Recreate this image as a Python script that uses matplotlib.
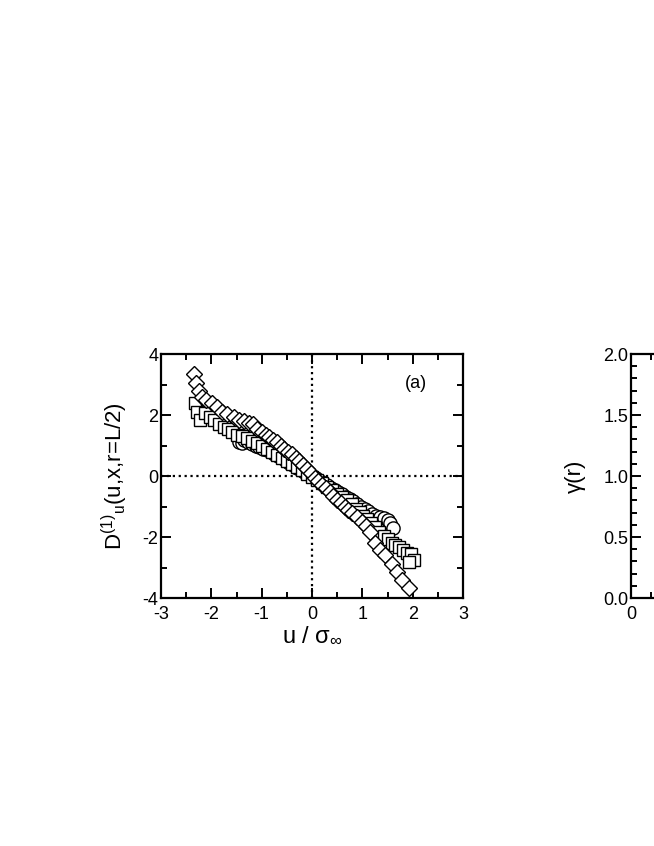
import matplotlib.pyplot as plt
from matplotlib.ticker import MultipleLocator

plt.rcParams['font.family'] = ['Liberation Sans', 'DejaVu Sans']
plt.rcParams['mathtext.fontset'] = 'custom'
plt.rcParams['mathtext.rm'] = 'Liberation Sans'
plt.rcParams['mathtext.it'] = 'Liberation Sans'
plt.rcParams['axes.unicode_minus'] = False

# panel (a) data
circ_u = [-1.45, -1.40, -1.35, -1.28, -1.20, -1.12, -1.05, -0.98, -0.90, -0.82, -0.75, -0.68,
          -0.60, -0.52, -0.45, -0.38, -0.30, -0.22, -0.15, -0.08, 0.00, 0.08, 0.15, 0.22,
          0.30, 0.38, 0.45, 0.52, 0.60, 0.68, 0.75, 0.82, 0.90, 0.98, 1.05, 1.12, 1.20,
          1.28, 1.35, 1.42, 1.50, 1.55, 1.60]
circ_d = [1.12, 1.08, 1.18, 1.10, 1.05, 1.00, 0.95, 0.90, 0.85, 0.78, 0.72, 0.66,
          0.58, 0.50, 0.44, 0.36, 0.28, 0.20, 0.14, 0.07, -0.01, -0.08, -0.15, -0.22,
          -0.30, -0.38, -0.45, -0.52, -0.60, -0.68, -0.75, -0.82, -0.92, -1.00, -1.08, -1.15, -1.25,
          -1.30, -1.35, -1.38, -1.45, -1.55, -1.70]

sq_u = [-2.32, -2.28, -2.22, -2.13, -2.03, -1.95, -1.85, -1.75, -1.67, -1.58, -1.49, -1.40,
        -1.30, -1.20, -1.10, -1.00, -0.90, -0.80, -0.70, -0.60, -0.50, -0.40, -0.30, -0.20,
        -0.10, 0.00, 0.10, 0.20, 0.30, 0.40, 0.50, 0.60, 0.70, 0.80, 0.88, 0.95, 1.02, 1.10,
        1.18, 1.26, 1.34, 1.42, 1.50, 1.58, 1.65, 1.72, 1.80, 1.88, 1.96, 2.02, 1.92]
sq_d = [2.40, 2.10, 1.84, 2.06, 1.94, 1.85, 1.72, 1.62, 1.55, 1.45, 1.36, 1.30,
        1.24, 1.16, 1.08, 1.00, 0.90, 0.80, 0.70, 0.60, 0.50, 0.40, 0.30, 0.19,
        0.08, -0.02, -0.12, -0.24, -0.35, -0.46, -0.58, -0.68, -0.80, -0.92, -1.08, -1.18, -1.30, -1.42,
        -1.55, -1.68, -1.82, -1.95, -2.05, -2.18, -2.25, -2.33, -2.43, -2.52, -2.55, -2.75, -2.82]

dia_u = [-2.35, -2.30, -2.25, -2.18, -2.10, -1.98, -1.88, -1.78, -1.68, -1.55, -1.45, -1.35,
         -1.25, -1.18, -1.10, -1.00, -0.92, -0.85, -0.78, -0.70, -0.62, -0.55, -0.47, -0.40,
         -0.32, -0.25, -0.17, -0.10, -0.03, 0.05, 0.12, 0.20, 0.28, 0.35, 0.42, 0.50, 0.58,
         0.65, 0.72, 0.80, 0.90, 1.00, 1.08, 1.15, 1.25, 1.35, 1.45, 1.58, 1.68, 1.78, 1.92]
dia_d = [3.35, 3.05, 2.80, 2.60, 2.50, 2.40, 2.25, 2.10, 2.05, 1.95, 1.85, 1.80,
         1.75, 1.70, 1.55, 1.45, 1.35, 1.28, 1.18, 1.10, 1.00, 0.90, 0.80, 0.72,
         0.60, 0.48, 0.35, 0.22, 0.10, -0.05, -0.15, -0.28, -0.40, -0.52, -0.65, -0.78, -0.90,
         -1.02, -1.12, -1.20, -1.35, -1.50, -1.65, -1.85, -2.20, -2.43, -2.59, -2.89, -3.14, -3.41, -3.68]

# panel (b) ticks only (cut off at the edge of the page)
gamma_ticks = [0.0, 0.5, 1.0, 1.5, 2.0]

fig = plt.figure(figsize=(6.54, 8.46), dpi=100)

ax = fig.add_axes([0.2462, 0.2931, 0.4618, 0.2884])
ax.axhline(0, color='black', ls=':', lw=1.6, zorder=1)
ax.axvline(0, color='black', ls=':', lw=1.6, zorder=1)
mk = dict(ls='none', mfc='white', mec='black', mew=1.0, zorder=3)
ax.plot(circ_u, circ_d, marker='o', ms=9.5, **mk)
ax.plot(sq_u, sq_d, marker='s', ms=9, **mk)
ax.plot(dia_u, dia_d, marker='D', ms=8, **mk)
ax.set_xlim(-3, 3)
ax.set_ylim(-4, 4)
ax.xaxis.set_major_locator(MultipleLocator(1))
ax.xaxis.set_minor_locator(MultipleLocator(0.5))
ax.yaxis.set_major_locator(MultipleLocator(2))
ax.yaxis.set_minor_locator(MultipleLocator(1))
ax.text(0.845, 0.88, '(a)', transform=ax.transAxes, ha='center', va='center', fontsize=13)
ax.set_xlabel(r'u / σ$_{\infty}$', fontsize=17, labelpad=1)
ax.set_ylabel(r'D$^{(1)}$$_{u}$(u,x,r=L/2)', fontsize=16, labelpad=9)

ax2 = fig.add_axes([0.9648, 0.2931, 0.4618, 0.2884])
ax2.set_xlim(0, 15)
ax2.set_ylim(0, 2)
ax2.set_xticks([0])
ax2.xaxis.set_minor_locator(MultipleLocator(1))
ax2.set_yticks(gamma_ticks)
ax2.set_yticklabels(['%.1f' % t for t in gamma_ticks])
ax2.yaxis.set_minor_locator(MultipleLocator(0.1))
ax2.set_ylabel('γ(r)', fontsize=16, labelpad=12)

for a in (ax, ax2):
    for s in a.spines.values():
        s.set_linewidth(1.6)
    a.tick_params(which='both', direction='in', top=True, right=True, width=1.4, labelsize=13, pad=2)
    a.tick_params(which='major', length=7)
    a.tick_params(which='minor', length=4)
    a.tick_params(axis='x', pad=6)

fig.savefig('out.png', dpi=100)
